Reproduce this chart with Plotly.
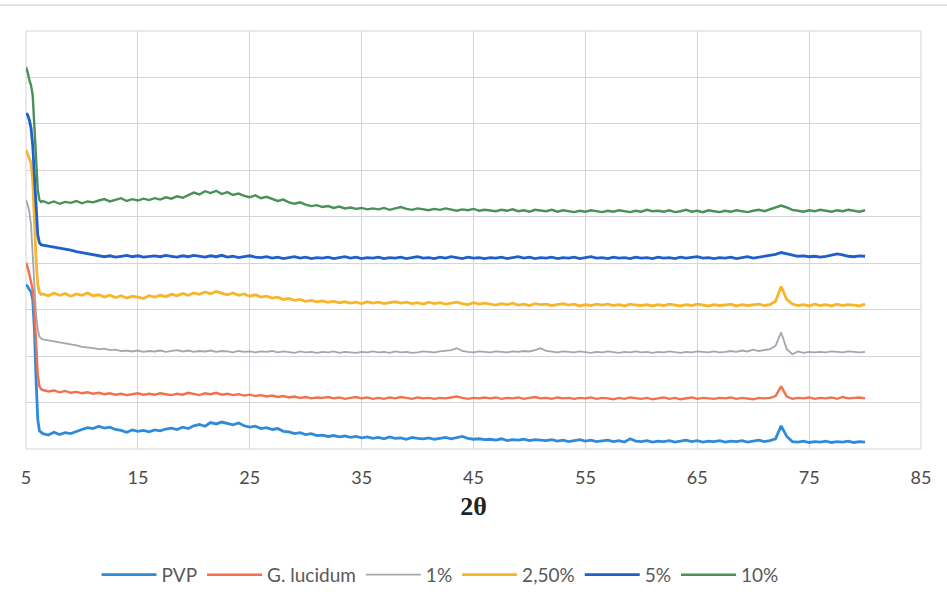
import numpy as np
import plotly.graph_objects as go

# 2-theta sampling grid (degrees)
X_HEAD = [5.0, 5.15, 5.3, 5.45, 5.6, 5.75, 5.9, 6.05, 6.2, 6.35]
X_BODY = list(np.round(np.arange(6.5, 80.001, 0.5), 2))
two_theta = X_HEAD + X_BODY

series_names = ["PVP", "G. lucidum", "1%", "2,50%", "5%", "10%"]

pvp = [354, 350, 343, 339, 322, 258, 150, 64, 39, 36,
       33, 30, 36, 31, 35, 33, 38, 42, 46, 44,
       49, 45, 47, 42, 40, 36, 41, 38, 40, 37,
       41, 39, 43, 45, 42, 47, 44, 50, 53, 49,
       57, 54, 58, 55, 52, 56, 50, 47, 49, 44,
       46, 42, 44, 38, 37, 33, 35, 31, 33, 29,
       30, 27, 29, 26, 28, 25, 27, 24, 26, 23,
       25, 22, 26, 23, 24, 21, 25, 23, 22, 24,
       21, 23, 25, 22, 24, 27, 23, 21, 22, 20,
       21, 19, 22, 18, 20, 19, 21, 18, 20, 19,
       18, 20, 17, 19, 16, 18, 20, 17, 19, 16,
       17, 19, 16, 18, 15, 22, 17, 16, 18, 15,
       17, 16, 18, 15, 17, 19, 16, 18, 15, 17,
       16, 18, 15, 17, 16, 18, 15, 17, 19, 16,
       18, 22, 50, 27, 16, 15, 17, 14, 16, 15,
       17, 14, 16, 15, 17, 14, 16, 15]

g_lucidum = [401, 391, 376, 358, 343, 300, 225, 161, 135, 129,
             127, 124, 126, 122, 125, 121, 123, 120, 122, 119,
             121, 118, 120, 117, 119, 116, 118, 120, 117, 119,
             117, 120, 118, 116, 119, 117, 121, 118, 116, 120,
             118, 121, 117, 119, 116, 118, 115, 117, 114, 116,
             113, 115, 112, 114, 111, 113, 110, 112, 109, 111,
             110, 112, 109, 111, 108, 110, 112, 109, 111, 108,
             110, 108, 111, 109, 112, 110, 108, 111, 109, 110,
             108, 110, 109, 111, 113, 110, 108, 110, 109, 111,
             109, 111, 108, 110, 109, 111, 108, 110, 112, 109,
             110, 108, 111, 109, 110, 108, 110, 109, 111, 108,
             110, 109, 107, 110, 108, 111, 109, 108, 110, 107,
             109, 111, 108, 110, 107, 109, 111, 108, 110, 109,
             108, 110, 109, 111, 108, 110, 109, 107, 110, 109,
             110, 114, 135, 113, 108, 110, 109, 111, 108, 110,
             109, 111, 108, 112, 109, 110, 111, 109]

one_pct = [536, 526, 511, 483, 418, 343, 290, 258, 242, 238,
           236, 234, 232, 230, 228, 225, 223, 220, 219, 217,
           215, 216, 213, 214, 211, 212, 210, 212, 209, 211,
           210, 212, 209, 211, 213, 210, 212, 209, 211, 210,
           212, 209, 211, 210, 208, 211, 209, 210, 208, 210,
           209, 211, 208, 210, 209, 207, 210, 208, 209, 207,
           209, 208, 210, 207, 209, 208, 207, 209, 208, 210,
           208, 209, 207, 210, 208, 209, 207, 208, 210, 209,
           208, 210, 211, 213, 217, 211, 209, 208, 210, 209,
           208, 210, 209, 208, 210, 209, 211, 210, 213, 217,
           211, 209, 208, 210, 209, 208, 210, 209, 207, 209,
           208, 210, 209, 207, 209, 208, 210, 208, 209, 207,
           209, 208, 210, 209, 207, 209, 208, 210, 209, 208,
           210, 208, 209, 211, 209, 212, 210, 214, 211, 213,
           215, 222, 251, 215, 204, 210, 207, 209, 208, 209,
           208, 210, 209, 208, 210, 209, 208, 209]

two_half_pct = [644, 633, 622, 616, 579, 483, 408, 354, 337, 333,
                334, 330, 336, 331, 335, 329, 334, 331, 336, 330,
                332, 327, 331, 326, 330, 325, 329, 327, 324, 330,
                327, 331, 328, 333, 330, 335, 331, 336, 333, 338,
                334, 339, 335, 332, 336, 331, 334, 329, 332, 327,
                329, 325, 327, 322, 324, 320, 322, 318, 320, 317,
                319, 316, 318, 315, 317, 314, 316, 313, 317, 314,
                316, 313, 315, 317, 314, 316, 313, 315, 312, 316,
                313, 315, 312, 314, 316, 313, 311, 315, 312, 314,
                312, 310, 313, 311, 314, 310, 312, 309, 313, 311,
                312, 309, 311, 313, 310, 312, 308, 311, 309, 312,
                310, 312, 309, 311, 308, 312, 310, 309, 311, 308,
                311, 309, 312, 310, 308, 311, 309, 312, 310, 308,
                311, 309, 310, 312, 308, 311, 309, 310, 312, 309,
                311, 318, 350, 322, 312, 309, 311, 308, 312, 309,
                311, 308, 312, 309, 311, 310, 308, 312]

five_pct = [723, 719, 708, 691, 654, 579, 504, 461, 444, 440,
            439, 437, 435, 433, 430, 428, 425, 423, 420, 418,
            417, 414, 416, 413, 415, 417, 414, 416, 413, 415,
            416, 414, 417, 415, 413, 416, 414, 417, 415, 413,
            416, 414, 417, 413, 415, 412, 414, 416, 413, 412,
            414, 411, 413, 410, 412, 414, 411, 413, 410, 412,
            411, 413, 410, 412, 414, 411, 413, 410, 412, 411,
            413, 410, 412, 411, 413, 410, 412, 414, 411, 412,
            410, 413, 411, 414, 412, 410, 413, 411, 412, 410,
            412, 411, 413, 410, 412, 414, 411, 413, 410, 412,
            411, 413, 410, 412, 411, 413, 410, 412, 414, 411,
            412, 410, 413, 411, 412, 410, 413, 411, 412, 410,
            413, 411, 412, 410, 413, 411, 412, 414, 411, 412,
            410, 412, 411, 413, 410, 412, 414, 411, 413, 415,
            416, 419, 423, 420, 417, 415, 416, 414, 415, 413,
            415, 417, 420, 418, 415, 414, 416, 415]

ten_pct = [822, 811, 794, 783, 762, 697, 622, 558, 536, 532,
           534, 529, 533, 528, 532, 530, 534, 529, 533, 531,
           535, 538, 533, 537, 540, 534, 538, 535, 539, 536,
           540, 537, 542, 539, 544, 541, 547, 552, 548, 555,
           551, 556, 549, 553, 547, 550, 545, 542, 546, 540,
           543, 538, 534, 537, 531, 528, 531, 526, 523, 525,
           521, 523, 519, 522, 518, 520, 517, 519, 516, 518,
           516, 519, 515, 518, 521, 517, 515, 518, 516, 514,
           517, 515, 518, 516, 513, 516, 514, 517, 513, 515,
           514, 512, 515, 513, 516, 512, 514, 511, 515, 513,
           512, 515, 511, 514, 512, 510, 513, 511, 514, 512,
           510, 513, 511, 514, 512, 510, 513, 511, 515, 512,
           513, 511, 514, 510, 512, 515, 511, 513, 510, 514,
           512, 510, 513, 511, 514, 512, 510, 513, 515, 512,
           516, 519, 524, 520, 515, 513, 511, 514, 512, 515,
           513, 511, 514, 512, 515, 513, 511, 514]

x_ticks = [5, 15, 25, 35, 45, 55, 65, 75, 85]

series_values = [pvp, g_lucidum, one_pct, two_half_pct, five_pct, ten_pct]
colors = ["#2F8BDA", "#F2704C", "#A5A5AF", "#F7B52A", "#1F5FCB", "#4A9158"]
widths = [2.8, 2.4, 1.8, 2.8, 2.8, 2.4]

fig = go.Figure()
for name, vals, col, w in zip(series_names, series_values, colors, widths):
    assert len(vals) == len(two_theta), (name, len(vals), len(two_theta))
    fig.add_trace(go.Scatter(x=two_theta, y=vals, mode="lines", name=name,
                             line=dict(color=col, width=w)))

fig.update_layout(
    width=947, height=605,
    margin=dict(l=26, r=26, t=31, b=155),
    paper_bgcolor="white", plot_bgcolor="white",
    showlegend=True,
    legend=dict(orientation="h", x=0.4626, xanchor="center", y=-0.298, yanchor="middle",
                itemwidth=55,
                font=dict(family="Lato", size=19, color="#595959"),
                bgcolor="rgba(0,0,0,0)"),
    xaxis=dict(range=[5, 85], tickvals=x_ticks, ticktext=[str(v) for v in x_ticks],
               showgrid=True, gridcolor="#D4D4DC", gridwidth=1, zeroline=False,
               showline=False, ticks="outside", ticklen=12, tickcolor="rgba(0,0,0,0)",
               tickfont=dict(family="Lato", size=18, color="#4A4A4A"),
               title=dict(text="<b>2θ</b>", standoff=10,
                          font=dict(family="Liberation Serif", size=26, color="#222222"))),
    yaxis=dict(range=[0, 900], dtick=100, showgrid=True, gridcolor="#D4D4DC", gridwidth=1,
               zeroline=False, showticklabels=False, showline=False),
)
# plot-area outline (top/right edges of the chart frame)
fig.add_shape(type="rect", xref="paper", yref="paper", x0=0, y0=0, x1=1, y1=1,
              line=dict(color="#D4D4DC", width=1), layer="below")
# thin border line at the top of the scanned image
fig.add_shape(type="line", xref="paper", yref="paper", x0=-0.03, x1=1.03, y0=1.062, y1=1.062,
              line=dict(color="#C8C8CC", width=1))

fig.write_html("out.html")
